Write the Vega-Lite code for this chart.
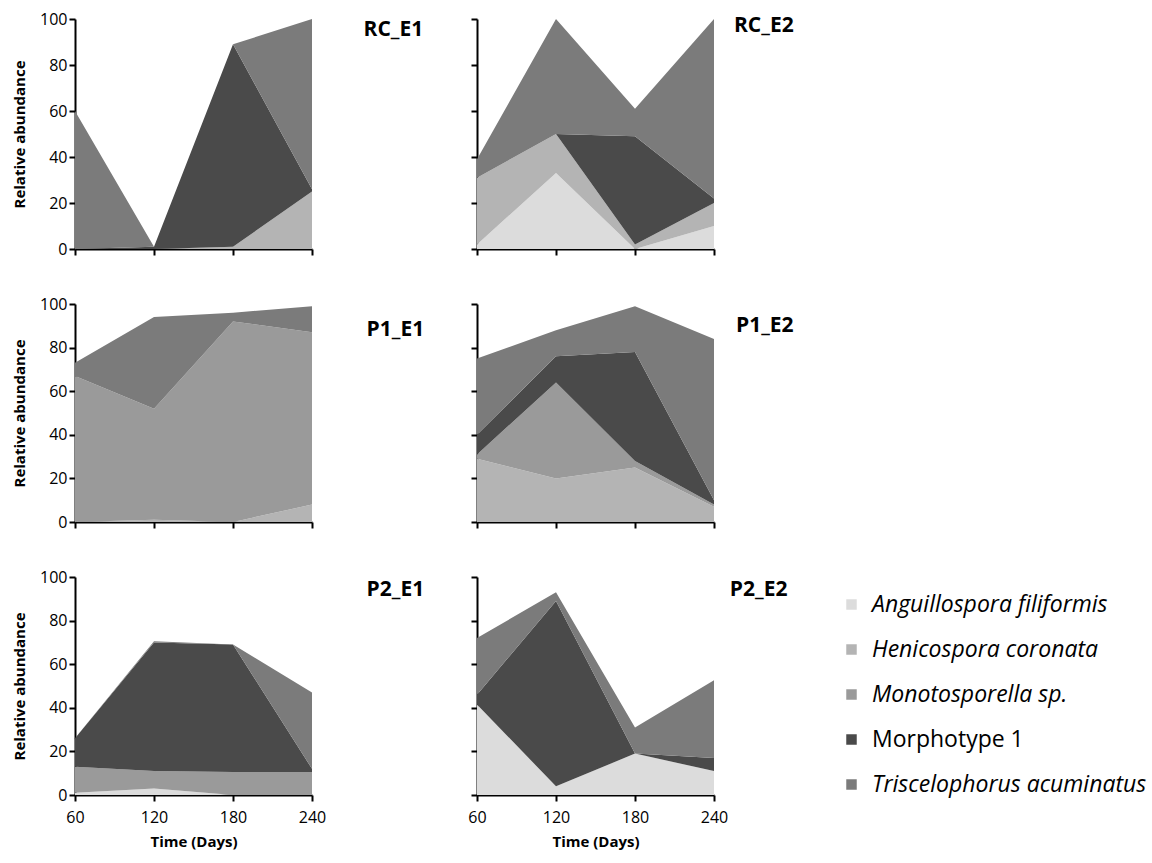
{
  "$schema": "https://vega.github.io/schema/vega-lite/v6.json",
  "background": "white",
  "padding": {"left": 12, "top": 11, "right": 5, "bottom": 5},
  "datasets": {
    "d": [
      {"panel":"RC_E1","day":60,"species":"Anguillospora filiformis","value":0},
      {"panel":"RC_E1","day":60,"species":"Henicospora coronata","value":0},
      {"panel":"RC_E1","day":60,"species":"Monotosporella sp.","value":0},
      {"panel":"RC_E1","day":60,"species":"Morphotype 1","value":0},
      {"panel":"RC_E1","day":60,"species":"Triscelophorus acuminatus","value":60},
      {"panel":"RC_E1","day":120,"species":"Anguillospora filiformis","value":0},
      {"panel":"RC_E1","day":120,"species":"Henicospora coronata","value":0},
      {"panel":"RC_E1","day":120,"species":"Monotosporella sp.","value":0},
      {"panel":"RC_E1","day":120,"species":"Morphotype 1","value":1},
      {"panel":"RC_E1","day":120,"species":"Triscelophorus acuminatus","value":0},
      {"panel":"RC_E1","day":180,"species":"Anguillospora filiformis","value":0},
      {"panel":"RC_E1","day":180,"species":"Henicospora coronata","value":1},
      {"panel":"RC_E1","day":180,"species":"Monotosporella sp.","value":0},
      {"panel":"RC_E1","day":180,"species":"Morphotype 1","value":88},
      {"panel":"RC_E1","day":180,"species":"Triscelophorus acuminatus","value":0},
      {"panel":"RC_E1","day":240,"species":"Anguillospora filiformis","value":0},
      {"panel":"RC_E1","day":240,"species":"Henicospora coronata","value":25},
      {"panel":"RC_E1","day":240,"species":"Monotosporella sp.","value":0},
      {"panel":"RC_E1","day":240,"species":"Morphotype 1","value":1},
      {"panel":"RC_E1","day":240,"species":"Triscelophorus acuminatus","value":74},

      {"panel":"RC_E2","day":60,"species":"Anguillospora filiformis","value":2},
      {"panel":"RC_E2","day":60,"species":"Henicospora coronata","value":29},
      {"panel":"RC_E2","day":60,"species":"Monotosporella sp.","value":0},
      {"panel":"RC_E2","day":60,"species":"Morphotype 1","value":0},
      {"panel":"RC_E2","day":60,"species":"Triscelophorus acuminatus","value":8},
      {"panel":"RC_E2","day":120,"species":"Anguillospora filiformis","value":33},
      {"panel":"RC_E2","day":120,"species":"Henicospora coronata","value":17},
      {"panel":"RC_E2","day":120,"species":"Monotosporella sp.","value":0},
      {"panel":"RC_E2","day":120,"species":"Morphotype 1","value":0},
      {"panel":"RC_E2","day":120,"species":"Triscelophorus acuminatus","value":50},
      {"panel":"RC_E2","day":180,"species":"Anguillospora filiformis","value":0},
      {"panel":"RC_E2","day":180,"species":"Henicospora coronata","value":2},
      {"panel":"RC_E2","day":180,"species":"Monotosporella sp.","value":0},
      {"panel":"RC_E2","day":180,"species":"Morphotype 1","value":47},
      {"panel":"RC_E2","day":180,"species":"Triscelophorus acuminatus","value":12},
      {"panel":"RC_E2","day":240,"species":"Anguillospora filiformis","value":10},
      {"panel":"RC_E2","day":240,"species":"Henicospora coronata","value":10},
      {"panel":"RC_E2","day":240,"species":"Monotosporella sp.","value":0},
      {"panel":"RC_E2","day":240,"species":"Morphotype 1","value":2},
      {"panel":"RC_E2","day":240,"species":"Triscelophorus acuminatus","value":78},

      {"panel":"P1_E1","day":60,"species":"Anguillospora filiformis","value":0},
      {"panel":"P1_E1","day":60,"species":"Henicospora coronata","value":0},
      {"panel":"P1_E1","day":60,"species":"Monotosporella sp.","value":67},
      {"panel":"P1_E1","day":60,"species":"Morphotype 1","value":0},
      {"panel":"P1_E1","day":60,"species":"Triscelophorus acuminatus","value":6},
      {"panel":"P1_E1","day":120,"species":"Anguillospora filiformis","value":0},
      {"panel":"P1_E1","day":120,"species":"Henicospora coronata","value":1},
      {"panel":"P1_E1","day":120,"species":"Monotosporella sp.","value":51},
      {"panel":"P1_E1","day":120,"species":"Morphotype 1","value":0},
      {"panel":"P1_E1","day":120,"species":"Triscelophorus acuminatus","value":42},
      {"panel":"P1_E1","day":180,"species":"Anguillospora filiformis","value":0},
      {"panel":"P1_E1","day":180,"species":"Henicospora coronata","value":0},
      {"panel":"P1_E1","day":180,"species":"Monotosporella sp.","value":92},
      {"panel":"P1_E1","day":180,"species":"Morphotype 1","value":0},
      {"panel":"P1_E1","day":180,"species":"Triscelophorus acuminatus","value":4},
      {"panel":"P1_E1","day":240,"species":"Anguillospora filiformis","value":0},
      {"panel":"P1_E1","day":240,"species":"Henicospora coronata","value":8},
      {"panel":"P1_E1","day":240,"species":"Monotosporella sp.","value":79},
      {"panel":"P1_E1","day":240,"species":"Morphotype 1","value":0},
      {"panel":"P1_E1","day":240,"species":"Triscelophorus acuminatus","value":12},

      {"panel":"P1_E2","day":60,"species":"Anguillospora filiformis","value":0},
      {"panel":"P1_E2","day":60,"species":"Henicospora coronata","value":29},
      {"panel":"P1_E2","day":60,"species":"Monotosporella sp.","value":2},
      {"panel":"P1_E2","day":60,"species":"Morphotype 1","value":9},
      {"panel":"P1_E2","day":60,"species":"Triscelophorus acuminatus","value":35},
      {"panel":"P1_E2","day":120,"species":"Anguillospora filiformis","value":0},
      {"panel":"P1_E2","day":120,"species":"Henicospora coronata","value":20},
      {"panel":"P1_E2","day":120,"species":"Monotosporella sp.","value":44},
      {"panel":"P1_E2","day":120,"species":"Morphotype 1","value":12},
      {"panel":"P1_E2","day":120,"species":"Triscelophorus acuminatus","value":12},
      {"panel":"P1_E2","day":180,"species":"Anguillospora filiformis","value":0},
      {"panel":"P1_E2","day":180,"species":"Henicospora coronata","value":25},
      {"panel":"P1_E2","day":180,"species":"Monotosporella sp.","value":3},
      {"panel":"P1_E2","day":180,"species":"Morphotype 1","value":50},
      {"panel":"P1_E2","day":180,"species":"Triscelophorus acuminatus","value":21},
      {"panel":"P1_E2","day":240,"species":"Anguillospora filiformis","value":0},
      {"panel":"P1_E2","day":240,"species":"Henicospora coronata","value":7},
      {"panel":"P1_E2","day":240,"species":"Monotosporella sp.","value":1},
      {"panel":"P1_E2","day":240,"species":"Morphotype 1","value":2},
      {"panel":"P1_E2","day":240,"species":"Triscelophorus acuminatus","value":74},

      {"panel":"P2_E1","day":60,"species":"Anguillospora filiformis","value":1},
      {"panel":"P2_E1","day":60,"species":"Henicospora coronata","value":0},
      {"panel":"P2_E1","day":60,"species":"Monotosporella sp.","value":12},
      {"panel":"P2_E1","day":60,"species":"Morphotype 1","value":13},
      {"panel":"P2_E1","day":60,"species":"Triscelophorus acuminatus","value":0},
      {"panel":"P2_E1","day":120,"species":"Anguillospora filiformis","value":3},
      {"panel":"P2_E1","day":120,"species":"Henicospora coronata","value":0},
      {"panel":"P2_E1","day":120,"species":"Monotosporella sp.","value":8},
      {"panel":"P2_E1","day":120,"species":"Morphotype 1","value":59},
      {"panel":"P2_E1","day":120,"species":"Triscelophorus acuminatus","value":0.5},
      {"panel":"P2_E1","day":180,"species":"Anguillospora filiformis","value":0},
      {"panel":"P2_E1","day":180,"species":"Henicospora coronata","value":0},
      {"panel":"P2_E1","day":180,"species":"Monotosporella sp.","value":10.5},
      {"panel":"P2_E1","day":180,"species":"Morphotype 1","value":58.5},
      {"panel":"P2_E1","day":180,"species":"Triscelophorus acuminatus","value":0},
      {"panel":"P2_E1","day":240,"species":"Anguillospora filiformis","value":0},
      {"panel":"P2_E1","day":240,"species":"Henicospora coronata","value":0},
      {"panel":"P2_E1","day":240,"species":"Monotosporella sp.","value":10.5},
      {"panel":"P2_E1","day":240,"species":"Morphotype 1","value":1.5},
      {"panel":"P2_E1","day":240,"species":"Triscelophorus acuminatus","value":35},

      {"panel":"P2_E2","day":60,"species":"Anguillospora filiformis","value":41.5},
      {"panel":"P2_E2","day":60,"species":"Henicospora coronata","value":0},
      {"panel":"P2_E2","day":60,"species":"Monotosporella sp.","value":0},
      {"panel":"P2_E2","day":60,"species":"Morphotype 1","value":4.5},
      {"panel":"P2_E2","day":60,"species":"Triscelophorus acuminatus","value":26},
      {"panel":"P2_E2","day":120,"species":"Anguillospora filiformis","value":4},
      {"panel":"P2_E2","day":120,"species":"Henicospora coronata","value":0},
      {"panel":"P2_E2","day":120,"species":"Monotosporella sp.","value":0},
      {"panel":"P2_E2","day":120,"species":"Morphotype 1","value":85},
      {"panel":"P2_E2","day":120,"species":"Triscelophorus acuminatus","value":4},
      {"panel":"P2_E2","day":180,"species":"Anguillospora filiformis","value":19},
      {"panel":"P2_E2","day":180,"species":"Henicospora coronata","value":0},
      {"panel":"P2_E2","day":180,"species":"Monotosporella sp.","value":0},
      {"panel":"P2_E2","day":180,"species":"Morphotype 1","value":0},
      {"panel":"P2_E2","day":180,"species":"Triscelophorus acuminatus","value":12},
      {"panel":"P2_E2","day":240,"species":"Anguillospora filiformis","value":11},
      {"panel":"P2_E2","day":240,"species":"Henicospora coronata","value":0},
      {"panel":"P2_E2","day":240,"species":"Monotosporella sp.","value":0},
      {"panel":"P2_E2","day":240,"species":"Morphotype 1","value":6},
      {"panel":"P2_E2","day":240,"species":"Triscelophorus acuminatus","value":35.6}
    ]
  },
  "config": {
    "font": "Open Sans",
    "view": {"stroke": null},
    "axis": {
      "grid": false,
      "domainColor": "black",
      "domainWidth": 2,
      "tickColor": "black",
      "tickWidth": 2,
      "tickSize": 6,
      "labelColor": "black",
      "labelFont": "Open Sans",
      "labelFontSize": 16,
      "labelFlush": false,
      "titleFont": "Open Sans",
      "titleFontSize": 15,
      "titleFontWeight": "bold",
      "titleColor": "black"
    },
    "title": {
      "font": "Open Sans",
      "fontSize": 21,
      "fontWeight": "bold",
      "color": "black",
      "anchor": "start",
      "baseline": "top"
    }
  },
  "columns": 2,
  "spacing": {"row": 55, "column": 165},
  "bounds": "flush",
  "concat": [
    {
      "title": {"text": "RC_E1", "dx": 351, "offset": -29},
      "width": 237, "height": 230,
      "data": {"name": "d"},
      "transform": [{"filter": "datum.panel === 'RC_E1'"}],
      "mark": {"type": "area", "interpolate": "linear"},
      "encoding": {
        "x": {"field": "day", "type": "quantitative", "scale": {"domain": [60, 240], "nice": false}, "axis": {"values": [60, 120, 180, 240], "labels": false, "title": null}},
        "y": {"field": "value", "type": "quantitative", "stack": "zero", "scale": {"domain": [0, 100], "nice": false}, "axis": {"values": [0, 20, 40, 60, 80, 100], "title": "Relative abundance", "titlePadding": 12}},
        "order": {"field": "species", "type": "nominal", "sort": "ascending"},
        "color": {"field": "species", "type": "nominal",
          "scale": {"domain": ["Anguillospora filiformis", "Henicospora coronata", "Monotosporella sp.", "Morphotype 1", "Triscelophorus acuminatus"], "range": ["#dcdcdc", "#b4b4b4", "#9a9a9a", "#4a4a4a", "#7b7b7b"]},
          "legend": {"title": null, "orient": "none", "legendX": 765, "legendY": 574, "symbolType": "square", "symbolSize": 110, "symbolStrokeWidth": 0, "labelFont": "Open Sans", "labelFontSize": 23, "labelColor": "black", "labelLimit": 400, "rowPadding": 21, "labelOffset": 9,
            "encode": {"labels": {"update": {"fontStyle": {"signal": "datum.label === 'Morphotype 1' ? 'normal' : 'italic'"}}}}}}
      }
    },
    {
      "title": {"text": "RC_E2", "dx": 264, "offset": -18},
      "width": 237, "height": 230,
      "data": {"name": "d"},
      "transform": [{"filter": "datum.panel === 'RC_E2'"}],
      "mark": {"type": "area", "interpolate": "linear"},
      "encoding": {
        "x": {"field": "day", "type": "quantitative", "scale": {"domain": [60, 240], "nice": false}, "axis": {"values": [60, 120, 180, 240], "labels": false, "title": null}},
        "y": {"field": "value", "type": "quantitative", "stack": "zero", "scale": {"domain": [0, 100], "nice": false}, "axis": {"values": [0, 20, 40, 60, 80, 100], "labels": false, "title": null}},
        "order": {"field": "species", "type": "nominal", "sort": "ascending"},
        "color": {"field": "species", "type": "nominal"}
      }
    },
    {
      "title": {"text": "P1_E1", "dx": 354, "offset": -44},
      "width": 237, "height": 218,
      "data": {"name": "d"},
      "transform": [{"filter": "datum.panel === 'P1_E1'"}],
      "mark": {"type": "area", "interpolate": "linear"},
      "encoding": {
        "x": {"field": "day", "type": "quantitative", "scale": {"domain": [60, 240], "nice": false}, "axis": {"values": [60, 120, 180, 240], "labels": false, "title": null}},
        "y": {"field": "value", "type": "quantitative", "stack": "zero", "scale": {"domain": [0, 100], "nice": false}, "axis": {"values": [0, 20, 40, 60, 80, 100], "title": "Relative abundance", "titlePadding": 12}},
        "order": {"field": "species", "type": "nominal", "sort": "ascending"},
        "color": {"field": "species", "type": "nominal"}
      }
    },
    {
      "title": {"text": "P1_E2", "dx": 266, "offset": -33},
      "width": 237, "height": 218,
      "data": {"name": "d"},
      "transform": [{"filter": "datum.panel === 'P1_E2'"}],
      "mark": {"type": "area", "interpolate": "linear"},
      "encoding": {
        "x": {"field": "day", "type": "quantitative", "scale": {"domain": [60, 240], "nice": false}, "axis": {"values": [60, 120, 180, 240], "labels": false, "title": null}},
        "y": {"field": "value", "type": "quantitative", "stack": "zero", "scale": {"domain": [0, 100], "nice": false}, "axis": {"values": [0, 20, 40, 60, 80, 100], "labels": false, "title": null}},
        "order": {"field": "species", "type": "nominal", "sort": "ascending"},
        "color": {"field": "species", "type": "nominal"}
      }
    },
    {
      "title": {"text": "P2_E1", "dx": 354, "offset": -31},
      "width": 237, "height": 218,
      "data": {"name": "d"},
      "transform": [{"filter": "datum.panel === 'P2_E1'"}],
      "mark": {"type": "area", "interpolate": "linear"},
      "encoding": {
        "x": {"field": "day", "type": "quantitative", "scale": {"domain": [60, 240], "nice": false}, "axis": {"values": [60, 120, 180, 240], "title": "Time (Days)", "labelPadding": 8, "titlePadding": 9}},
        "y": {"field": "value", "type": "quantitative", "stack": "zero", "scale": {"domain": [0, 100], "nice": false}, "axis": {"values": [0, 20, 40, 60, 80, 100], "title": "Relative abundance", "titlePadding": 12}},
        "order": {"field": "species", "type": "nominal", "sort": "ascending"},
        "color": {"field": "species", "type": "nominal"}
      }
    },
    {
      "title": {"text": "P2_E2", "dx": 262, "offset": -24},
      "width": 237, "height": 218,
      "data": {"name": "d"},
      "transform": [{"filter": "datum.panel === 'P2_E2'"}],
      "mark": {"type": "area", "interpolate": "linear"},
      "encoding": {
        "x": {"field": "day", "type": "quantitative", "scale": {"domain": [60, 240], "nice": false}, "axis": {"values": [60, 120, 180, 240], "title": "Time (Days)", "labelPadding": 8, "titlePadding": 9}},
        "y": {"field": "value", "type": "quantitative", "stack": "zero", "scale": {"domain": [0, 100], "nice": false}, "axis": {"values": [0, 20, 40, 60, 80, 100], "labels": false, "title": null}},
        "order": {"field": "species", "type": "nominal", "sort": "ascending"},
        "color": {"field": "species", "type": "nominal"}
      }
    }
  ]
}
